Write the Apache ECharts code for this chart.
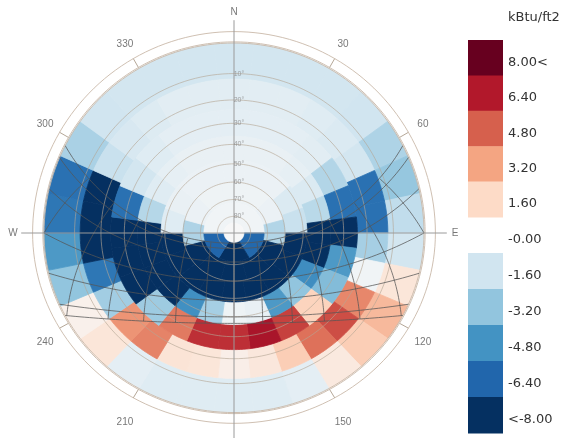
<!DOCTYPE html>
<html>
<head>
<meta charset="utf-8">
<title>Sky radiation benefit</title>
<script src="https://cdn.jsdelivr.net/npm/echarts/dist/echarts.min.js"></script>
<style>
  html, body { margin: 0; padding: 0; background: #ffffff; }
  #chart { width: 573px; height: 438px; }
</style>
</head>
<body>
<div id="chart"></div>
<script>
// Tregenza sky subdivision: altitude band edges (degrees) from the horizon to the zenith
const bandEdges = [0, 12, 24, 36, 48, 60, 72, 84, 90];

// Patch values in kBtu/ft2, listed clockwise from north; the first patch of each band is centred on north
const band00to12 = [-1.5, -1.5, -1.5, -1.5, -1.6, -2.5, -3.1, -2.0, -1.5, 1.0, 2.6, 2.0, 0.8, -0.8, -1.0,
                    -1.0, -1.0, -1.0, -0.8, 1.0, 0.4, -3.2, -4.6, -5.8, -6.0, -2.6, -1.6, -1.5, -1.5, -1.5];
const band12to24 = [-0.9, -0.9, -0.9, -1.0, -1.2, -1.5, -6.0, -6.0, -2.7, -0.3, 3.9, 5.2, 4.4, 2.0, 0.9,
                    0.5, 1.0, 1.1, 4.0, 3.6, -2.8, -5.8, -8.5, -8.5, -8.5, -1.8, -1.3, -1.1, -0.9, -0.9];
const band24to36 = [-0.8, -0.8, -0.8, -0.9, -2.4, -6.0, -8.5, -4.6, -3.5, 1.8, 5.5, 6.6,
                    5.9, 5.9, 4.2, -2.9, -8.5, -8.5, -8.5, -6.0, -1.5, -1.0, -0.8, -0.8];
const band36to48 = [-0.6, -0.6, -0.6, -0.7, -1.2, -2.2, -8.5, -8.5, -5.0, -3.2, -4.6, -0.6,
                    -0.4, -2.7, -4.9, -8.5, -8.5, -8.5, -8.5, -2.3, -1.0, -0.7, -0.6, -0.6];
const band48to60 = [-0.5, -0.5, -0.5, -1.2, -1.8, -8.5, -8.5, -8.5, -8.5,
                    -8.5, -8.5, -8.5, -8.5, -8.5, -1.0, -0.6, -0.5, -0.5];
const band60to72 = [-0.4, -0.4, -0.5, -2.4, -8.5, -8.5, -8.5, -8.5, -8.5, -2.5, -0.5, -0.4];
const band72to84 = [-0.3, -0.3, -6.3, -8.5, -6.4, -0.3];
const zenithPatch = [0.0];
const skyBands = [band00to12, band12to24, band24to36, band36to48, band48to60, band60to72, band72to84, zenithPatch];

// Colour ramp from the low end (< -8) to the high end (8 <)
const colorRamp = ['#053061', '#2166ac', '#4393c3', '#92c5de', '#d1e5f0', '#f7f7f7',
                   '#fddbc7', '#f4a582', '#d6604d', '#b2182b', '#67001f'];
const legendTitle = 'kBtu/ft2';
const legendUpperLabels = ['8.00<', '6.40', '4.80', '3.20', '1.60'];
const legendLowerLabels = ['-0.00', '-1.60', '-3.20', '-4.80', '-6.40', '<-8.00'];

// Compass and altitude grid
const compassNames = ['N', '30', '60', 'E', '120', '150', 'S', '210', '240', 'W', '300', '330'];
const altitudeRings = [10, 20, 30, 40, 50, 60, 70, 80];

// Sun path: site latitude, declinations of the 21st of each month, clock hours
const siteLatitude = 30;
const monthlyDeclinations = [-23.44, -20.1, -11.2, 0.0, 11.6, 20.1, 23.44];
const clockHours = [6, 7, 8, 9, 10, 11, 12, 13, 14, 15, 16, 17, 18];

const DEG = Math.PI / 180;
// The dome view is slightly foreshortened towards the south
const southScale = 0.945;
// Stereographic projection of an altitude to a normalised radius (horizon = 1)
const stereo = alt => Math.tan((90 - alt) / 2 * DEG);
function projectRho(rho, az) {
  const x = rho * Math.sin(az * DEG);
  let y = rho * Math.cos(az * DEG);
  if (y < 0) y *= southScale;
  return [x, y];
}
const project = (alt, az) => projectRho(stereo(alt), az);
const flat = (rho, az) => [rho * Math.sin(az * DEG), rho * Math.cos(az * DEG)];

function sunPosition(decDeg, hourAngleDeg) {
  const p = siteLatitude * DEG, d = decDeg * DEG, h = hourAngleDeg * DEG;
  let s = Math.sin(p) * Math.sin(d) + Math.cos(p) * Math.cos(d) * Math.cos(h);
  s = Math.max(-1, Math.min(1, s));
  const alt = Math.asin(s);
  let c = (Math.sin(d) - Math.sin(alt) * Math.sin(p)) / (Math.cos(alt) * Math.cos(p));
  c = Math.max(-1, Math.min(1, c));
  let az = Math.acos(c) / DEG;
  if (hourAngleDeg > 0) az = 360 - az;
  return { alt: alt / DEG, az: az };
}

// Sky patch records: [altitude low, altitude high, azimuth centre, azimuth width, value]
const patchData = [];
skyBands.forEach((values, b) => {
  const w = 360 / values.length;
  values.forEach((v, i) => {
    patchData.push([bandEdges[b], bandEdges[b + 1], i * w, w, v]);
  });
});

function renderPatch(params, api) {
  const lo = api.value(0), hi = api.value(1), az = api.value(2), w = api.value(3);
  const n = Math.max(2, Math.ceil(w / 1.5));
  const pts = [];
  for (let k = 0; k <= n; k++) pts.push(api.coord(project(lo, az - w / 2 + w * k / n)));
  for (let k = n; k >= 0; k--) pts.push(api.coord(project(hi, az - w / 2 + w * k / n)));
  const c = api.visual('color');
  return { type: 'polygon', shape: { points: pts }, style: { fill: c, stroke: c, lineWidth: 0.8 } };
}

function ringRenderer(strokeColor, width) {
  return function (params, api) {
    const rho = api.value(0);
    const pts = [];
    for (let t = 0; t <= 360; t += 2) pts.push(api.coord(projectRho(rho, t)));
    return { type: 'polyline', shape: { points: pts },
             style: { fill: null, stroke: strokeColor, lineWidth: width } };
  };
}

// Daily sun arcs
const sunSeries = [];
monthlyDeclinations.forEach(dec => {
  const h0 = Math.acos(Math.max(-1, Math.min(1, -Math.tan(siteLatitude * DEG) * Math.tan(dec * DEG)))) / DEG;
  const pts = [];
  const steps = 90;
  for (let k = 0; k <= steps; k++) {
    const h = -h0 + 2 * h0 * k / steps;
    const s = sunPosition(dec, h);
    pts.push(project(Math.max(0, s.alt), s.az));
  }
  sunSeries.push(pts);
});
// Hour lines across the year
clockHours.forEach(hr => {
  const h = 15 * (hr - 12);
  const pts = [];
  const dec0 = Math.atan(-Math.cos(h * DEG) / Math.tan(siteLatitude * DEG)) / DEG;
  const decs = [];
  for (let d = -23.44; d <= 23.44 + 1e-6; d += 0.5) decs.push(d);
  if (dec0 > -23.44 && dec0 < 23.44) decs.push(dec0);
  decs.sort((a, b) => a - b);
  decs.forEach(d => {
    const s = sunPosition(d, h);
    if (s.alt >= -1e-6) pts.push(project(Math.max(0, s.alt), s.az));
  });
  if (pts.length > 1) sunSeries.push(pts);
});

const series = [];
series.push({
  name: 'Sky patches', type: 'custom', coordinateSystem: 'cartesian2d',
  data: patchData, renderItem: renderPatch, encode: { x: 2, y: 0 }, silent: true, z: 1
});
series.push({
  name: 'Altitude rings', type: 'custom', coordinateSystem: 'cartesian2d',
  data: altitudeRings.map(a => [stereo(a)]), renderItem: ringRenderer('rgba(180,165,148,0.7)', 0.9),
  silent: true, z: 2
});
series.push({
  name: 'Compass rings', type: 'custom', coordinateSystem: 'cartesian2d',
  data: [[1.0], [1.006], [1.06]], renderItem: ringRenderer('#c9b9a9', 0.9), silent: true, z: 2
});
sunSeries.forEach((pts, i) => {
  series.push({
    name: 'Sun path ' + i, type: 'line', data: pts,
    showSymbol: false, smooth: false, silent: true, z: 3,
    lineStyle: { color: 'rgba(85,85,85,0.75)', width: 1 }
  });
});
// Cardinal axes
series.push({
  type: 'line', data: [flat(1.12, 0), flat(1.2, 180)], showSymbol: false, silent: true, z: 4,
  lineStyle: { color: '#9a9a9a', width: 1 }
});
series.push({
  type: 'line', data: [flat(1.12, 90), flat(1.12, 270)], showSymbol: false, silent: true, z: 4,
  lineStyle: { color: '#9a9a9a', width: 1 }
});
// Ticks at every 30 degrees
compassNames.forEach((name, i) => {
  if (i % 3 === 0) return;
  series.push({
    type: 'line', data: [projectRho(1.006, i * 30), projectRho(1.06, i * 30)],
    showSymbol: false, silent: true, z: 4, lineStyle: { color: '#b5a797', width: 1 }
  });
});
// Compass labels
series.push({
  type: 'scatter', symbolSize: 0, silent: true, z: 5, clip: false,
  data: compassNames.map((name, i) => ({ name: name, value: flat(i % 3 === 0 ? 1.163 : 1.148, i * 30) })),
  label: { show: true, position: 'inside', formatter: '{b}', color: '#555', fontSize: 10,
           fontFamily: 'Liberation Sans, Arial, sans-serif' }
});
// Altitude labels along the north axis
series.push({
  type: 'scatter', symbolSize: 0, silent: true, z: 5,
  data: altitudeRings.map(a => ({ name: a + '°', value: project(a, 0) })),
  label: { show: true, position: 'inside', offset: [5, 0], formatter: '{b}', color: '#8c8c8c', fontSize: 7,
           fontFamily: 'Liberation Sans, Arial, sans-serif' }
});

// Legend blocks and labels
const graphic = [];
const legX = 468, legW = 35, legTextX = 508;
const upperTop = 40, upperH = 35.4, lowerTop = 253, lowerH = 36;
const legendFont = '13px "DejaVu Sans", Verdana, sans-serif';
graphic.push({ type: 'text', x: legTextX, y: 18, style: { text: legendTitle, font: legendFont, fill: '#333', textVerticalAlign: 'middle' } });
legendUpperLabels.forEach((lab, i) => {
  graphic.push({ type: 'rect', shape: { x: legX, y: upperTop + i * upperH, width: legW, height: upperH + 0.5 },
                 style: { fill: colorRamp[10 - i] } });
  graphic.push({ type: 'text', x: legTextX, y: upperTop + (i + 1) * upperH - 13,
                 style: { text: lab, font: legendFont, fill: '#333', textVerticalAlign: 'middle' } });
});
legendLowerLabels.forEach((lab, j) => {
  if (j < 5) {
    graphic.push({ type: 'rect', shape: { x: legX, y: lowerTop + j * lowerH, width: legW, height: lowerH + 0.5 },
                   style: { fill: colorRamp[4 - j] } });
  }
  graphic.push({ type: 'text', x: legTextX, y: lowerTop + j * lowerH - 13,
                 style: { text: lab, font: legendFont, fill: '#333', textVerticalAlign: 'middle' } });
});

// Plot frame: 190 px per unit radius, dome centre at (234, 233)
const unitPx = 190, gridLeft = 6, gridTop = 5, gridW = 456, gridBottomPx = 438;
const yMax = 1.2, yMin = yMax - (gridBottomPx - gridTop) / unitPx;

const chart = echarts.init(document.getElementById('chart'), null, { renderer: 'canvas' });
chart.setOption({
  animation: false,
  backgroundColor: '#ffffff',
  grid: { left: gridLeft, top: gridTop, right: 573 - gridLeft - gridW, bottom: 0, containLabel: false },
  xAxis: { type: 'value', min: -1.2, max: 1.2, show: false },
  yAxis: { type: 'value', min: yMin, max: yMax, show: false },
  visualMap: { type: 'continuous', show: false, seriesIndex: 0, dimension: 4, min: -8, max: 8,
               inRange: { color: colorRamp } },
  graphic: graphic,
  series: series
});
</script>
</body>
</html>
